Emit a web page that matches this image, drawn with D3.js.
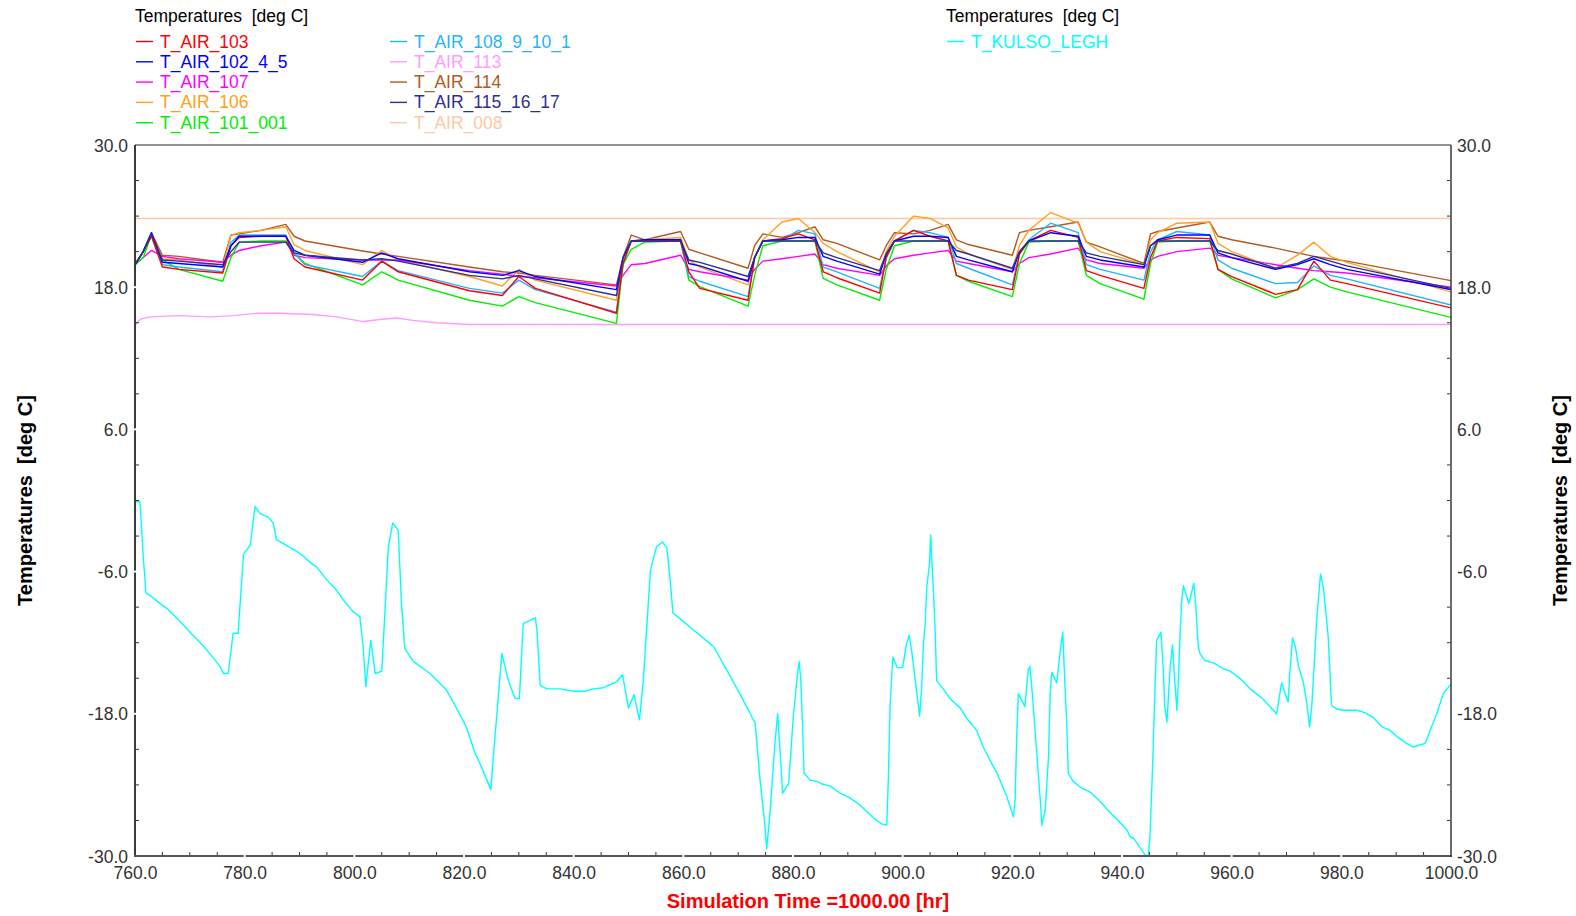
<!DOCTYPE html>
<html><head><meta charset="utf-8">
<script src="https://cdn.jsdelivr.net/npm/d3@7"></script>
<style>
body{margin:0;background:#fff;}
svg text{font-family:"Liberation Sans",Arial,sans-serif;white-space:pre;}
</style>
</head><body>
<svg id="chart" width="1576" height="916"></svg>
<script>
// ---------------- DATA ----------------
const legendTitle = "Temperatures  [deg C]";
const axisTitle = "Temperatures  [deg C]";
const xTitle = "Simulation Time =1000.00 [hr]";
const xTicks = [760, 780, 800, 820, 840, 860, 880, 900, 920, 940, 960, 980, 1000];
const yTicks = [30, 18, 6, -6, -18, -30];

const leftNames = ["T_AIR_103", "T_AIR_102_4_5", "T_AIR_107", "T_AIR_106", "T_AIR_101_001",
                   "T_AIR_108_9_10_1", "T_AIR_113", "T_AIR_114", "T_AIR_115_16_17", "T_AIR_008"];
const leftColors = ["#ff0000", "#0000ff", "#ff00ff", "#ffa023", "#00f000",
                    "#1fb4ff", "#ff9cff", "#b25a22", "#2e2e96", "#ffc8a6"];
const rightNames = ["T_KULSO_LEGH"];
const rightColors = ["#00ffff"];

// shared time axis for the heated zones [hr]
const indoorTimes = [760, 761.5, 763, 765, 768, 776, 777.5, 779, 783, 787.5,
  789, 791, 801.5, 805, 808, 821, 827, 830, 833, 847.8,
  849, 850.5, 853, 859.5, 861, 863, 871.8, 873, 874.5, 878,
  881, 884, 885.5, 888, 895.8, 897, 898.5, 902, 905, 908.3,
  909.8, 912, 920, 921.3, 923, 927, 932, 933.5, 936, 944,
  945.2, 946.5, 950, 956, 957.5, 960, 968, 972, 975, 978, 981, 1000];

const air103 = [19.9, 21.0, 22.3, 19.7, 19.5, 19.2, 21.5, 22.2, 22.3, 22.3,
  20.4, 19.7, 18.6, 20.2, 19.3, 17.7, 17.3, 18.9, 17.9, 15.8,
  20.0, 21.9, 21.9, 21.9, 19.3, 17.9, 16.9, 20.5, 21.9, 22.1,
  22.5, 22.0, 19.3, 18.8, 17.5, 20.5, 21.9, 22.8, 22.3, 21.9,
  19.0, 18.6, 17.8, 20.8, 21.9, 22.8, 22.2, 19.4, 19.0, 17.9,
  20.5, 21.9, 22.2, 22.1, 19.5, 18.9, 17.4, 17.8, 20.2, 18.6, 18.3, 16.25];

const air102 = [19.9, 21.0, 22.6, 20.1, 20.0, 19.7, 21.5, 22.3, 22.3, 22.3,
  21.1, 20.7, 20.1, 20.9, 20.4, 19.3, 19.0, 19.4, 18.9, 17.8,
  20.5, 21.9, 22.0, 22.0, 20.0, 19.8, 18.5, 20.5, 21.9, 22.0,
  22.2, 22.2, 20.6, 20.2, 19.1, 20.8, 21.9, 22.3, 22.3, 22.2,
  20.6, 20.3, 19.3, 21.0, 21.9, 22.6, 22.3, 20.6, 20.3, 19.7,
  21.5, 22.0, 22.4, 22.4, 20.9, 20.5, 19.5, 19.9, 20.4, 19.9, 19.5, 17.8];

const air107 = [19.9, 20.5, 21.1, 20.6, 20.4, 20.1, 20.7, 21.1, 21.5, 21.8,
  20.7, 20.5, 20.3, 20.3, 20.3, 19.4, 19.1, 18.9, 18.8, 18.1,
  19.0, 19.9, 20.0, 20.7, 19.5, 19.3, 18.6, 19.5, 20.2, 20.4,
  20.6, 20.8, 19.9, 19.6, 19.0, 19.8, 20.4, 20.7, 20.9, 21.1,
  20.2, 20.0, 19.3, 20.0, 20.5, 20.8, 21.3, 20.3, 20.0, 19.6,
  20.3, 20.6, 21.0, 21.3, 20.7, 20.5, 19.9, 19.6, 19.4, 19.3, 19.2, 18.0];

const air106 = [19.9, 21.0, 22.5, 20.4, 20.3, 19.7, 22.4, 22.6, 22.8, 23.1,
  21.6, 21.1, 19.9, 21.1, 20.3, 18.9, 18.1, 19.5, 18.6, 16.9,
  20.0, 21.9, 22.0, 22.2, 20.3, 19.7, 18.2, 20.5, 22.0, 23.5,
  23.8, 22.6, 21.7, 21.0, 19.3, 21.0, 22.3, 24.0, 23.8, 23.0,
  21.4, 20.8, 19.5, 21.5, 22.8, 24.3, 23.4, 21.8, 21.0, 19.9,
  22.0, 22.6, 23.4, 23.5, 21.7, 21.0, 19.6, 20.7, 21.8, 20.6, 20.1, 17.6];

const air101 = [19.9, 20.5, 22.4, 20.3, 19.5, 18.5, 20.5, 21.8, 21.9, 21.9,
  20.9, 20.0, 18.2, 19.3, 18.6, 16.9, 16.4, 17.2, 16.7, 14.95,
  19.9, 21.2, 21.8, 21.9, 18.6, 18.05, 16.4, 19.0, 21.5, 21.9,
  21.9, 21.9, 18.75, 18.2, 16.9, 19.5, 21.5, 21.9, 21.9, 21.9,
  19.0, 18.5, 17.2, 20.0, 21.8, 21.9, 21.9, 19.0, 18.3, 17.0,
  20.0, 21.8, 21.9, 21.9, 19.5, 18.7, 17.1, 17.8, 18.7, 18.0, 17.6, 15.45];

const air108 = [19.9, 21.0, 22.6, 19.9, 19.7, 19.3, 21.8, 22.4, 22.4, 22.4,
  20.9, 19.9, 18.9, 20.2, 19.4, 17.9, 17.5, 18.6, 17.8, 15.9,
  20.0, 21.9, 21.9, 21.9, 18.9, 18.5, 17.2, 20.5, 21.9, 22.0,
  22.8, 22.5, 19.7, 19.3, 17.9, 20.5, 21.9, 22.8, 22.6, 22.2,
  20.0, 19.6, 18.2, 20.8, 22.0, 23.4, 22.6, 19.9, 19.5, 18.6,
  21.0, 22.0, 22.7, 22.4, 20.3, 19.6, 18.3, 18.4, 19.8, 19.0, 18.7, 16.5];

const air114 = [19.9, 21.0, 22.6, 20.7, 20.6, 20.1, 22.4, 22.5, 22.8, 23.3,
  22.3, 21.9, 21.05, 20.8, 20.6, 19.7, 19.3, 19.2, 19.0, 18.2,
  20.5, 22.4, 22.0, 22.7, 21.2, 20.9, 19.6, 21.5, 22.5, 22.2,
  22.6, 23.1, 22.0, 21.7, 20.3, 21.5, 22.6, 22.5, 22.8, 23.3,
  22.0, 21.6, 20.7, 22.6, 22.8, 23.1, 23.5, 21.8, 21.4, 20.0,
  22.5, 22.7, 23.0, 23.5, 22.3, 22.0, 21.3, 20.9, 20.6, 20.4, 20.2, 18.55];

const air115 = [19.9, 21.0, 22.5, 20.3, 20.2, 19.9, 21.0, 21.8, 21.8, 21.8,
  20.9, 20.7, 20.3, 20.4, 20.2, 19.0, 18.7, 19.0, 18.7, 17.3,
  20.5, 21.9, 21.9, 21.9, 20.3, 20.1, 18.9, 20.5, 21.9, 21.9,
  21.9, 21.9, 20.9, 20.5, 19.4, 20.8, 21.9, 21.9, 21.9, 21.9,
  21.1, 20.8, 19.6, 21.0, 21.9, 21.9, 21.9, 20.9, 20.6, 19.9,
  21.5, 21.9, 21.9, 21.9, 21.1, 20.8, 19.6, 20.0, 20.6, 20.2, 19.8, 17.9];

const air113Times = [760, 761, 762.7, 768, 773.7, 778, 782.3, 786.4, 792.5, 796.8, 801.6, 805, 807.8, 810.7, 815, 821, 1000];
const air113 = [14.8, 15.3, 15.5, 15.6, 15.5, 15.6, 15.8, 15.8, 15.7, 15.5, 15.1, 15.3, 15.4, 15.2, 15.0, 14.85, 14.85];

const air008Times = [760, 1000];
const air008 = [23.8, 23.8];

const kulsoTimes = [760, 760.9, 761.5, 762.0, 762.7, 764.6, 765.8, 768.2, 770.0, 772.5,
  774.3, 775.5, 776.1, 777.0, 777.9, 778.8, 779.8, 781.0, 781.9, 782.8,
  784.3, 785.2, 785.8, 787.7, 789.5, 790.7, 791.9, 793.1, 795.0, 796.8,
  798.0, 799.8, 801.0, 801.6, 802.1, 802.6, 803.0, 803.8, 805.0, 805.6,
  806.2, 807.0, 808.0, 808.6, 809.2, 810.8, 812.6, 813.8, 816.8, 817.8,
  819.3, 820.5, 822.0, 823.2, 824.9, 825.3, 826.0, 826.9, 828.1, 829.3,
  830.1, 830.8, 833.0, 833.3, 833.9, 835.1, 837.5, 840.0, 842.1, 843.6,
  845.4, 847.8, 848.9, 850.0, 851.0, 852.0, 852.7, 853.3, 854.0, 855.1,
  856.2, 857.0, 857.6, 858.1, 860.0, 861.8, 864.9, 865.5, 867.9, 870.3,
  872.2, 873.1, 874.0, 874.9, 875.2, 875.8, 876.7, 877.2, 877.6, 878.1,
  879.2, 880.1, 880.7, 881.1, 881.4, 881.8, 882.0, 883.1, 884.3, 885.2,
  886.8, 888.6, 890.4, 892.2, 894.7, 896.2, 897.1, 897.4, 897.7, 898.2,
  899.0, 900.0, 900.7, 901.2, 901.7, 902.3, 902.6, 903.1, 903.5, 903.8,
  904.1, 904.4, 904.9, 905.1, 905.6, 905.9, 906.2, 907.4, 908.6, 910.5,
  911.7, 913.5, 914.7, 916.0, 917.2, 919.0, 920.2, 920.5, 920.8, 921.1,
  922.3, 922.9, 923.2, 923.7, 924.5, 925.1, 925.4, 926.0, 926.6, 926.9,
  927.2, 928.1, 928.7, 929.2, 929.6, 929.9, 930.2, 931.1, 932.4, 934.2,
  936.0, 937.8, 939.7, 940.9, 941.5, 942.1, 944.2, 944.8, 945.1, 945.4,
  945.7, 945.9, 946.2, 946.3, 947.1, 947.5, 947.8, 948.2, 948.5, 948.8,
  949.2, 949.5, 950.0, 950.3, 950.6, 950.9, 951.2, 952.2, 953.1, 953.5,
  953.9, 954.2, 955.1, 956.7, 958.5, 959.7, 961.5, 963.4, 965.8, 968.2,
  969.1, 970.3, 970.6, 971.1, 971.6, 972.2, 973.1, 973.7, 974.2, 974.6,
  975.0, 975.5, 975.8, 976.2, 976.7, 977.2, 977.6, 977.9, 978.2, 979.2,
  980.4, 982.8, 984.3, 985.8, 987.4, 988.9, 990.1, 991.9, 993.1, 995.3,
  996.2, 997.4, 998.6, 999.8, 1000];
const kulso = [-0.1, -0.1, -4.7, -7.8, -8.0, -8.7, -9.1, -10.2, -11.1, -12.3,
  -13.3, -14.0, -14.6, -14.6, -11.2, -11.2, -4.5, -3.8, -0.5, -1.1,
  -1.4, -1.9, -3.3, -3.8, -4.3, -4.7, -5.2, -5.6, -6.7, -7.6,
  -8.4, -9.4, -9.8, -12.3, -15.7, -13.5, -11.8, -14.6, -14.4, -9.2,
  -3.9, -1.9, -2.5, -8.7, -12.5, -13.6, -14.2, -14.6, -16.0, -16.8,
  -18.1, -19.2, -21.3, -22.5, -24.4, -21.9, -18.0, -12.9, -15.2, -16.7,
  -16.7, -10.4, -9.9, -10.9, -15.6, -15.9, -15.9, -16.1, -16.1, -15.9,
  -15.8, -15.3, -14.7, -17.5, -16.4, -18.5, -15.2, -10.9, -5.9, -3.9,
  -3.5, -4.0, -6.7, -9.5, -10.2, -10.9, -12.1, -12.3, -14.3, -16.3,
  -18.0, -18.8, -23.6, -27.5, -29.4, -26.4, -20.5, -18.0, -20.8, -24.7,
  -23.9, -18.0, -15.2, -13.6, -14.9, -19.7, -23.0, -23.6, -23.7, -23.9,
  -24.1, -24.7, -25.1, -25.7, -26.8, -27.3, -27.4, -23.3, -17.4, -13.2,
  -14.1, -14.1, -12.1, -11.4, -12.9, -15.2, -16.3, -18.2, -15.4, -12.1,
  -10.4, -7.3, -5.3, -2.9, -7.6, -10.7, -15.2, -15.9, -16.7, -17.5,
  -18.4, -19.4, -20.8, -22.0, -23.0, -25.0, -26.7, -25.3, -19.9, -16.3,
  -17.4, -14.3, -14.0, -16.6, -21.6, -25.3, -27.4, -26.1, -21.6, -16.3,
  -14.5, -15.4, -12.9, -11.1, -15.7, -18.5, -23.0, -23.7, -24.2, -24.6,
  -25.4, -26.3, -27.2, -27.8, -28.4, -28.5, -29.9, -30.0, -28.4, -24.7,
  -20.8, -17.4, -13.5, -11.8, -11.1, -14.0, -17.4, -18.7, -16.3, -14.0,
  -12.2, -14.3, -17.7, -15.1, -11.2, -8.4, -7.2, -8.7, -7.0, -9.2,
  -12.3, -12.9, -13.5, -13.7, -14.2, -14.4, -15.0, -15.9, -16.8, -18.0,
  -15.4, -17.0, -14.6, -11.6, -12.3, -14.0, -15.4, -17.1, -19.1, -17.4,
  -14.3, -10.1, -8.5, -6.2, -7.3, -9.5, -11.5, -14.3, -17.3, -17.6,
  -17.7, -17.7, -17.9, -18.3, -19.1, -19.4, -19.9, -20.5, -20.8, -20.5,
  -19.4, -18.0, -16.3, -15.6, -15.5];

// ---------------- CHART ----------------
const svg = d3.select("#chart");
const W = 1576, H = 916;
const plot = {left: 135, right: 1451, top: 145, bottom: 856};

const x = d3.scaleLinear().domain([760, 1000]).range([plot.left, plot.right]);
const y = d3.scaleLinear().domain([-30, 30]).range([plot.bottom, plot.top]);

svg.append("rect").attr("width", W).attr("height", H).attr("fill", "#fff");

svg.append("defs").append("clipPath").attr("id", "clip")
  .append("rect").attr("x", plot.left).attr("y", plot.top - 1)
  .attr("width", plot.right - plot.left).attr("height", plot.bottom - plot.top + 2);

// frame (top)
svg.append("line").attr("x1", plot.left).attr("x2", plot.right).attr("y1", plot.top).attr("y2", plot.top)
  .attr("stroke", "#222").attr("stroke-width", 1);

// series lines
const line = d3.line().x(d => x(d[0])).y(d => y(d[1]));
const gLines = svg.append("g").attr("clip-path", "url(#clip)");
const zip = (ts, vs) => ts.map((t, i) => [t, vs[i]]);

const leftSeries = [
  zip(indoorTimes, air103), zip(indoorTimes, air102), zip(indoorTimes, air107),
  zip(indoorTimes, air106), zip(indoorTimes, air101), zip(indoorTimes, air108),
  zip(air113Times, air113), zip(indoorTimes, air114), zip(indoorTimes, air115),
  zip(air008Times, air008)
];
const drawOrder = [9, 6, 7, 3, 2, 4, 5, 0, 1, 8];
drawOrder.forEach(i => {
  gLines.append("path").datum(leftSeries[i]).attr("d", line)
    .attr("fill", "none").attr("stroke", leftColors[i]).attr("stroke-width", 1.4)
    .attr("stroke-linejoin", "round");
});
gLines.append("path").datum(zip(kulsoTimes, kulso)).attr("d", line)
  .attr("fill", "none").attr("stroke", rightColors[0]).attr("stroke-width", 1.4)
  .attr("stroke-linejoin", "round");

// axes lines
const axisColor = "#3a3a3a";
svg.append("line").attr("x1", plot.left).attr("x2", plot.left).attr("y1", plot.top).attr("y2", plot.bottom + 1)
  .attr("stroke", axisColor).attr("stroke-width", 2);
svg.append("line").attr("x1", plot.left - 1).attr("x2", plot.right + 1).attr("y1", plot.bottom).attr("y2", plot.bottom)
  .attr("stroke", "#555").attr("stroke-width", 2);
svg.append("line").attr("x1", plot.right).attr("x2", plot.right).attr("y1", plot.top).attr("y2", plot.bottom + 1)
  .attr("stroke", axisColor).attr("stroke-width", 1.5);

// minor ticks
const minorX = d3.range(760, 1001, 5).filter(v => v % 20 !== 0);
const minorY = d3.range(-30, 31, 3).filter(v => (v + 30) % 12 !== 0);
svg.append("g").selectAll("line").data(minorX).join("line")
  .attr("x1", d => x(d)).attr("x2", d => x(d)).attr("y1", plot.bottom - 1).attr("y2", plot.bottom - 4)
  .attr("stroke", "#333").attr("stroke-width", 1);
svg.append("g").selectAll("line").data(minorY).join("line")
  .attr("x1", plot.left + 1).attr("x2", plot.left + 4).attr("y1", d => y(d)).attr("y2", d => y(d))
  .attr("stroke", "#333").attr("stroke-width", 1);
svg.append("g").selectAll("line").data(minorY).join("line")
  .attr("x1", plot.right - 1).attr("x2", plot.right - 4).attr("y1", d => y(d)).attr("y2", d => y(d))
  .attr("stroke", "#333").attr("stroke-width", 1);
// major ticks shown as small gaps in the axis line
svg.append("g").selectAll("rect").data(xTicks.slice(1, -1)).join("rect")
  .attr("x", d => x(d) - 1).attr("y", plot.bottom - 1.5).attr("width", 2).attr("height", 3).attr("fill", "#fff");
svg.append("g").selectAll("rect").data(yTicks.slice(1, -1)).join("rect")
  .attr("x", plot.left - 1.5).attr("y", d => y(d) - 1).attr("width", 3).attr("height", 2).attr("fill", "#fff");

// axis labels via d3 axes
const fmt = d => d.toFixed(1);
const labelColor = "#333";
const ax = svg.append("g").attr("transform", `translate(0,${plot.bottom})`)
  .call(d3.axisBottom(x).tickValues(xTicks).tickFormat(fmt).tickSize(0).tickPadding(11));
const ayl = svg.append("g").attr("transform", `translate(${plot.left},0)`)
  .call(d3.axisLeft(y).tickValues(yTicks).tickFormat(fmt).tickSize(0).tickPadding(7));
const ayr = svg.append("g").attr("transform", `translate(${plot.right},0)`)
  .call(d3.axisRight(y).tickValues(yTicks).tickFormat(fmt).tickSize(0).tickPadding(6));
[ax, ayl, ayr].forEach(g => {
  g.select(".domain").remove();
  g.selectAll("text").attr("font-size", 17.5).attr("fill", labelColor)
    .attr("font-family", "'Liberation Sans', Arial, sans-serif");
});
ayl.selectAll("text").attr("dy", "0.35em");
ayr.selectAll("text").attr("dy", "0.35em");

// axis titles
svg.append("text").attr("transform", `translate(32,${(plot.top + plot.bottom) / 2}) rotate(-90)`)
  .attr("text-anchor", "middle").attr("font-size", 20).attr("font-weight", "bold").attr("fill", "#000")
  .text(axisTitle);
svg.append("text").attr("transform", `translate(1567,${(plot.top + plot.bottom) / 2}) rotate(-90)`)
  .attr("text-anchor", "middle").attr("font-size", 20).attr("font-weight", "bold").attr("fill", "#000")
  .text(axisTitle);
svg.append("text").attr("x", 808).attr("y", 908).attr("text-anchor", "middle")
  .attr("font-size", 20).attr("font-weight", "bold").attr("fill", "#ff0000").text(xTitle);

// legends
function legend(x0, titleText, names, colors, rowsPerCol, colGap) {
  const g = svg.append("g");
  g.append("text").attr("x", x0).attr("y", 22).attr("font-size", 17.5).attr("fill", "#000").text(titleText);
  names.forEach((n, i) => {
    const col = Math.floor(i / rowsPerCol), row = i % rowsPerCol;
    const lx = x0 + col * colGap, ly = 41.5 + row * 20.3;
    g.append("line").attr("x1", lx + 1).attr("x2", lx + 18).attr("y1", ly).attr("y2", ly)
      .attr("stroke", colors[i]).attr("stroke-width", 1.4);
    g.append("text").attr("x", lx + 25).attr("y", ly + 6).attr("font-size", 17.5).attr("fill", colors[i]).text(n);
  });
}
legend(135, legendTitle, leftNames, leftColors, 5, 254);
legend(946, legendTitle, rightNames, rightColors, 5, 254);
</script>
</body></html>
